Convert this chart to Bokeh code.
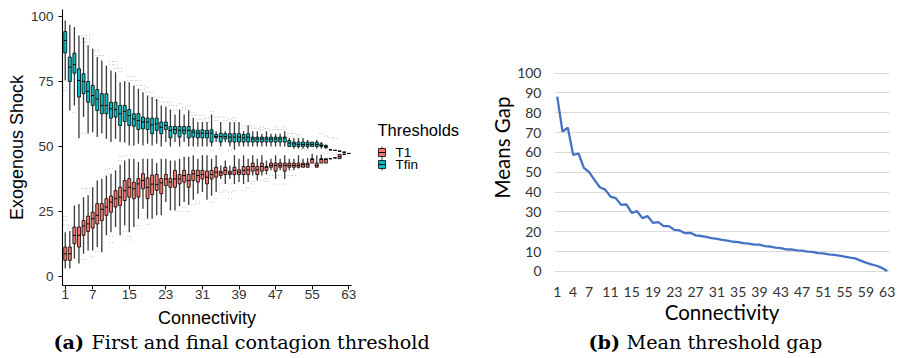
from bokeh.plotting import figure
from bokeh.layouts import row, column
from bokeh.models import Range1d, FixedTicker, Label
from bokeh.embed import file_html
from bokeh.resources import INLINE

conn = list(range(1, 64))

# Panel (a): boxplot statistics per connectivity
t1_lo = [3.0,3.0,6.8,5.0,8.7,10.0,10.0,11.3,9.3,15.8, 17.0,19.0,15.8,19.6,17.0,19.0,22.2,26.0,22.2,22.2,
         23.5,23.5,28.6,25.4,25.4,27.0,28.6,27.5,29.5,31.8, 32.5,29.5,31.0,32.5,37.5,35.6,37.5,35.6,36.3,35.6,
         36.3,38.8,36.9,38.8,39.2,40.8,37.5,40.8,37.5,40.8, 40.8,41.5,42.0,42.0,43.6,42.0,43.6,43.6,45.3,45.6,
         45.3,47.0,47.3]
t1_q1 = [6.2,6.2,12.6,11.3,15.8,17.3,18.6,20.2,21.5,23.5, 24.7,26.7,27.3,29.2,30.5,29.9,30.5,33.7,29.9,31.5,
         33.1,31.8,35.0,34.3,34.3,35.6,36.3,34.3,36.9,36.3, 37.5,35.6,37.5,38.2,38.8,39.2,39.2,39.2,39.2,39.2,
         39.2,40.5,39.2,40.5,40.8,42.0,40.5,42.0,40.5,42.0, 42.0,42.0,42.0,42.0,43.6,42.0,43.6,43.6,45.3,45.6,
         45.3,47.0,47.3]
t1_med = [8.7,8.7,15.8,15.8,19.4,20.2,22.2,23.5,25.8,26.7, 28.6,29.9,30.5,33.0,34.3,33.7,35.6,36.9,34.3,35.5,
          35.3,36.0,37.5,36.3,37.5,37.5,38.8,36.9,39.5,38.8, 39.2,38.2,39.2,40.1,39.8,40.8,39.8,40.8,40.1,40.8,
          41.0,42.3,41.0,42.3,42.0,42.7,42.7,42.7,42.7,42.7, 42.7,42.7,43.0,43.0,45.0,42.7,45.0,45.0,45.3,45.6,
          46.1,47.0,47.3]
t1_q3 = [11.3,11.3,19.0,19.0,21.5,23.2,24.7,28.0,28.0,29.9, 30.9,33.0,34.3,36.9,37.6,36.2,37.6,39.5,37.9,39.0,
         39.2,37.7,39.2,37.7,40.8,39.2,40.8,39.2,40.8,40.8, 40.8,40.5,40.8,42.0,40.5,42.0,40.5,42.0,41.0,42.3,
         42.3,43.6,42.3,43.6,42.3,43.6,43.6,43.6,43.6,43.6, 43.6,43.6,43.6,43.6,45.3,43.6,45.3,45.3,45.3,45.6,
         46.9,47.0,47.3]
t1_hi = [17.0,17.5,27.3,27.9,30.5,31.2,34.3,36.9,37.6,38.8, 39.5,40.8,43.0,44.6,45.3,45.3,44.0,45.3,45.3,45.3,
         43.6,45.3,45.3,44.6,44.6,45.3,46.0,46.0,46.6,45.3, 46.6,46.6,45.3,46.6,42.7,44.6,42.7,46.6,45.3,46.6,
         45.3,46.6,45.3,46.6,44.6,45.3,46.6,45.3,46.6,45.3, 45.3,46.6,45.3,45.6,47.2,46.6,46.9,45.3,45.3,45.6,
         46.9,47.0,47.3]

tfin_lo = [75.4,63.8,65.8,53.2,61.3,55.0,55.5,53.6,55.0,53.0, 51.7,53.0,51.7,51.5,50.4,50.4,51.0,50.4,51.0,50.4,
           51.0,50.0,51.7,50.0,51.7,50.0,51.7,50.0,50.0,50.0, 50.0,50.0,50.0,51.7,50.0,51.7,50.0,48.7,50.0,50.0,
           50.0,50.0,50.0,50.0,50.0,50.0,50.0,50.0,50.0,50.0, 49.1,49.1,49.1,49.1,50.0,49.1,49.1,49.1,48.7,48.5,
           48.2,47.8,47.3]
tfin_q1 = [86.0,75.0,78.2,69.0,70.3,67.0,65.8,63.8,62.6,62.6, 60.9,61.3,58.1,59.6,58.1,57.8,56.5,56.8,56.5,54.9,
           56.2,54.9,56.5,53.3,54.9,53.6,54.9,53.3,53.6,53.3, 53.3,53.3,51.7,53.3,51.7,52.9,51.7,51.7,51.7,51.7,
           51.7,51.7,51.7,51.7,51.7,51.7,51.7,51.7,51.7,50.0, 50.0,50.0,50.0,50.0,50.0,50.0,50.0,49.5,48.7,48.5,
           48.2,47.8,47.3]
tfin_med = [90.8,80.5,81.5,75.4,75.0,71.2,69.6,68.3,65.8,65.8, 64.5,64.2,62.6,63.5,61.9,60.6,60.0,59.4,59.4,58.3,
            58.7,57.4,58.1,56.2,56.5,56.2,56.2,56.2,55.5,55.1, 55.1,55.1,55.1,53.8,53.8,53.8,53.6,53.6,53.6,53.3,
            53.6,52.9,52.9,52.9,52.9,52.9,52.9,52.9,53.3,51.3, 51.0,50.8,50.8,50.8,50.8,50.8,50.4,50.0,48.7,48.5,
            48.2,47.8,47.3]
tfin_q3 = [94.2,84.4,85.9,79.9,78.0,75.0,73.5,71.9,70.3,70.3, 67.0,67.0,65.8,65.8,64.2,62.6,62.6,61.3,60.9,60.9,
           60.9,59.4,59.4,57.7,57.7,57.7,57.7,57.7,56.4,56.2, 56.4,56.2,56.4,54.6,55.1,54.9,54.9,54.9,54.9,54.6,
           54.9,53.6,53.6,53.6,53.6,53.6,53.6,53.6,53.6,52.3, 51.7,51.7,51.7,51.7,51.7,51.7,51.0,50.4,48.7,48.5,
           48.2,47.8,47.3]
tfin_hi = [98.5,96.8,96.0,92.7,92.0,88.8,87.6,84.4,83.1,81.2, 79.2,78.6,74.7,75.2,74.7,73.5,72.2,70.9,69.6,69.0,
           68.3,65.8,65.4,64.2,62.3,64.2,62.3,63.8,61.0,59.4, 59.4,59.4,62.3,55.9,59.4,55.9,59.4,59.4,59.4,55.9,
           58.1,55.9,55.9,54.9,55.9,54.9,54.9,54.9,55.9,53.3, 53.3,53.3,53.3,52.5,51.7,52.5,51.7,50.8,48.7,48.5,
           48.2,47.8,47.3]

# outliers (connectivity, value)
tfin_out_k = [1,1,3,5,5,5,6,6,6,6,5,8,8,9,11,11,12,12,12,13,13,15,15,16,16,17,17,18,18,19,19,20,20,21,21,
              22,22,23,24,24,25,25,26,27,27,28,28,29,29,30,30,31,31,32,32,33,34,34,35,36,36,37,38,38,
              40,40,41,42,42,43,44,44,45,46,47,47,48,49,49,50,50,51,52,52,57,58,59,60,29,31,33,35,37,53,54]
tfin_out_v = [72.7,71.5,63.0,92.7,91.4,90.2,92.7,91.4,90.2,88.8,55.0,86.9,85.0,85.0,82.7,81.4,82.7,81.4,80.1,80.1,78.8,
              77.0,75.4,77.0,75.4,75.4,73.5,73.5,71.8,72.6,70.9,70.9,69.0,69.0,67.7,
              68.8,67.0,67.0,67.0,65.8,65.8,64.0,66.5,65.0,64.0,65.8,64.0,63.0,62.0,62.0,60.5,62.0,60.5,61.0,59.5,
              63.5,61.3,60.0,61.3,61.3,60.0,60.5,61.0,60.0,
              58.0,57.0,58.0,58.0,57.0,57.0,57.5,56.5,57.0,56.5,57.5,56.5,56.5,57.5,56.5,55.0,54.0,55.0,54.5,53.5,
              55.0,54.0,53.5,53.0,49.0,49.0,48.5,49.0,48.5,49.0,48.5]
t1_out_k = [1,1,1,2,2,5,5,6,6,7,8,10,11,10,11,11,13,14,13,14,15,15,17,18,18,19,26,27,28,29,30,30,
            33,34,35,35,36,37,37,37,38,40,41,42,42,44,45,45,46,47,48,49,50,51,57,58,59,60,61]
t1_out_v = [23.0,21.5,20.0,19.5,18.5,6.5,33.8,33.8,32.5,7.5,9.5,41.0,41.5,39.8,15.5,13.0,46.0,46.5,44.5,17.3,15.4,14.0,
            19.5,24.0,22.0,20.0,25.0,26.5,25.0,27.5,29.0,28.0,
            28.5,30.0,35.6,32.4,33.0,35.6,32.4,29.9,33.0,33.0,34.0,36.5,35.6,37.0,37.5,36.5,38.8,35.5,38.8,35.5,
            38.8,38.8,47.8,47.2,47.5,47.0,48.0]

# Panel (b): mean gap
gap = [88.2,70.6,72.5,58.8,59.5,52.3,50.1,46.2,42.5,41.3, 37.8,37.0,33.6,33.8,29.6,30.4,26.9,27.9,24.5,24.9,
       22.9,22.9,21.0,20.7,19.3,19.5,18.2,17.9,17.4,16.8, 16.5,16.0,15.6,15.0,14.8,14.3,14.1,13.5,13.5,12.8,
       12.6,12.0,11.8,11.2,11.1,10.6,10.5,10.0,9.9,9.3, 9.1,8.6,8.4,8.0,7.5,7.0,6.6,5.5,4.5,3.6,
       2.9,1.8,0.2]

a_xticks = [1, 7, 15, 23, 31, 39, 47, 55, 63]
a_yticks = [0, 25, 50, 75, 100]
b_xticks = [1, 4, 7, 11, 15, 19, 23, 27, 31, 35, 39, 43, 47, 51, 55, 59, 63]
b_yticks = [0, 10, 20, 30, 40, 50, 60, 70, 80, 90, 100]
legend_labels = ["T1", "Tfin"]
legend_title = "Thresholds"

C_T1 = "#F8766D"
C_TF = "#00BFC4"
SANS = "Liberation Sans"
SERIF = "DejaVu Serif"

TOP, BOTTOM, FIG_H = 9, 45, 330

def blank(fig):
    fig.outline_line_color = None
    fig.xgrid.visible = False
    fig.ygrid.visible = False

# ---------------- Panel (a)
p1 = figure(width=365, height=FIG_H, x_range=Range1d(0.4, 63.6), y_range=Range1d(-3.5, 102.7),
            output_backend="svg", toolbar_location=None,
            min_border_left=62, min_border_right=14, min_border_top=TOP, min_border_bottom=BOTTOM)
blank(p1)

bw = 0.66
half = bw / 2.0

def outliers(k, v):
    p1.segment(x0=[a - 0.42 for a in k], y0=v, x1=[a + 0.42 for a in k], y1=v,
               line_color="#b5b5b5", line_width=1, line_dash="1 2")

outliers(tfin_out_k, tfin_out_v)
outliers(t1_out_k, t1_out_v)

def boxes(lo, q1, med, q3, hi, color):
    p1.segment(x0=conn, y0=lo, x1=conn, y1=hi, line_color="#3a3a3a", line_width=1.3)
    p1.vbar(x=conn, width=bw, bottom=q1, top=q3, fill_color=color,
            line_color="black", line_width=0.8)
    p1.segment(x0=[c - half for c in conn], y0=med, x1=[c + half for c in conn], y1=med,
               line_color="black", line_width=1)

boxes(t1_lo, t1_q1, t1_med, t1_q3, t1_hi, C_T1)
boxes(tfin_lo, tfin_q1, tfin_med, tfin_q3, tfin_hi, C_TF)

for ax in (p1.xaxis[0], p1.yaxis[0]):
    ax.axis_line_color = "black"
    ax.axis_line_width = 1.1
    ax.major_tick_line_color = "black"
    ax.major_tick_out = 4
    ax.major_tick_in = 0
    ax.minor_tick_out = 0
    ax.minor_tick_in = 0
    ax.major_label_text_font = SANS
    ax.major_label_text_font_size = "13.5px"
    ax.major_label_text_color = "#333333"
    ax.axis_label_text_font = SANS
    ax.axis_label_text_font_size = "18px"
    ax.axis_label_text_font_style = "normal"
    ax.axis_label_text_color = "black"

p1.xaxis[0].ticker = FixedTicker(ticks=a_xticks)
p1.yaxis[0].ticker = FixedTicker(ticks=a_yticks)
p1.xaxis[0].axis_label = "Connectivity"
p1.yaxis[0].axis_label = "Exogenous Shock"
p1.xaxis[0].major_label_standoff = 0
p1.yaxis[0].major_label_standoff = 5
p1.xaxis[0].axis_label_standoff = 6
p1.yaxis[0].axis_label_standoff = 1

# ---------------- Legend strip (page-pixel coordinates)
X0 = 365
pl = figure(width=113, height=FIG_H, x_range=Range1d(X0, X0 + 113), y_range=Range1d(285, 9),
            output_backend="svg", toolbar_location=None, x_axis_location=None, y_axis_location=None,
            min_border_left=0, min_border_right=0, min_border_top=TOP, min_border_bottom=BOTTOM)
blank(pl)
pl.add_layout(Label(x=377, y=129, text=legend_title, text_font=SANS, text_font_size="16.5px",
                    text_color="black", text_baseline="middle"))
for ky, lab, col in [(152, legend_labels[0], C_T1), (164, legend_labels[1], C_TF)]:
    pl.segment(x0=[381.5], y0=[ky - 6], x1=[381.5], y1=[ky + 6], line_color="#333333", line_width=1)
    pl.quad(left=[378], right=[385], top=[ky - 4], bottom=[ky + 4], fill_color=col,
            line_color="black", line_width=0.8)
    pl.segment(x0=[378], y0=[ky], x1=[385], y1=[ky], line_color="black", line_width=1)
    pl.add_layout(Label(x=395, y=ky, text=lab, text_font=SANS, text_font_size="13.5px",
                        text_color="black", text_baseline="middle"))

# ---------------- Panel (b)
p2 = figure(width=419, height=FIG_H, x_range=Range1d(0.49, 63.43), y_range=Range1d(-7.06, 132.1),
            output_backend="svg", toolbar_location=None,
            min_border_left=76, min_border_right=8, min_border_top=TOP, min_border_bottom=BOTTOM)
p2.outline_line_color = None
p2.xgrid.visible = False
p2.ygrid.ticker = FixedTicker(ticks=b_yticks)
p2.ygrid.grid_line_color = "#d9d9d9"
p2.ygrid.grid_line_width = 1

p2.line(conn, gap, line_color="#4472C4", line_width=2.3)

for ax in (p2.xaxis[0], p2.yaxis[0]):
    ax.axis_line_color = None
    ax.major_tick_line_color = None
    ax.minor_tick_line_color = None
    ax.major_tick_out = 0
    ax.major_tick_in = 0
    ax.minor_tick_out = 0
    ax.minor_tick_in = 0
    ax.major_label_text_font = "Lato"
    ax.major_label_text_font_size = "14px"
    ax.major_label_text_color = "#333333"
    ax.axis_label_text_font = "Lato"
    ax.axis_label_text_font_size = "20.5px"
    ax.axis_label_text_font_style = "normal"
    ax.axis_label_text_color = "black"

p2.xaxis[0].ticker = FixedTicker(ticks=b_xticks)
p2.yaxis[0].ticker = FixedTicker(ticks=b_yticks)
p2.xaxis[0].axis_label = "Connectivity"
p2.yaxis[0].axis_label = "Means Gap"
p2.xaxis[0].major_label_standoff = 1
p2.yaxis[0].major_label_standoff = 13
p2.xaxis[0].axis_label_standoff = 0
p2.yaxis[0].axis_label_standoff = 0

# ---------------- Captions strip
CAP_H = 26
p3 = figure(width=897, height=CAP_H, x_range=Range1d(0, 897), y_range=Range1d(0, CAP_H),
            output_backend="svg", toolbar_location=None,
            x_axis_location=None, y_axis_location=None, min_border=0)
blank(p3)
for x, txt, style in [(53, "(a)", "bold"), (91, "First and final contagion threshold", "normal"),
                      (588, "(b)", "bold"), (626, "Mean threshold gap", "normal")]:
    p3.add_layout(Label(x=x, y=14, text=txt, text_font=SERIF, text_font_size="19.2px",
                        text_font_style=style, text_color="black", text_baseline="middle"))

p = column(row(p1, pl, p2), p3)
open("out.html", "w").write(file_html(p, INLINE))
